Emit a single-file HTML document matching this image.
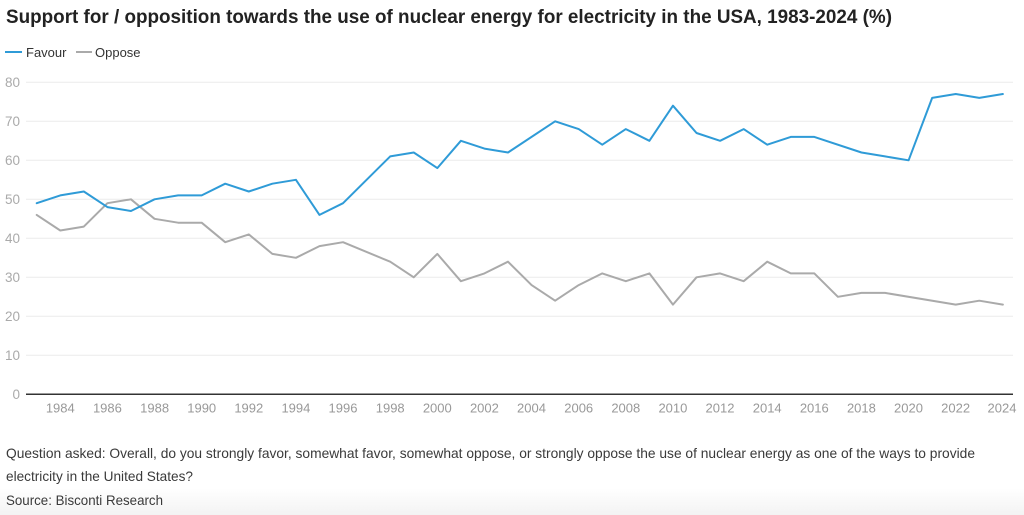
<!DOCTYPE html>
<html>
<head>
<meta charset="utf-8">
<style>
html,body{margin:0;padding:0;background:#fff;}
svg{display:block;}
text{font-family:"Liberation Sans",sans-serif;}
</style>
</head>
<body>
<svg width="1024" height="515" viewBox="0 0 1024 515" xmlns="http://www.w3.org/2000/svg">
<defs>
<linearGradient id="bg" x1="0" y1="0" x2="0" y2="1">
<stop offset="0" stop-color="#ffffff"/>
<stop offset="1" stop-color="#f3f3f3"/>
</linearGradient>
</defs>
<rect x="0" y="0" width="1024" height="515" fill="#fff"/>
<rect x="0" y="488" width="1024" height="27" fill="url(#bg)"/>

<text x="6" y="23" font-size="19" font-weight="bold" fill="#222" textLength="886" lengthAdjust="spacingAndGlyphs">Support for / opposition towards the use of nuclear energy for electricity in the USA, 1983-2024 (%)</text>

<line x1="5" y1="52" x2="22" y2="52" stroke="#2f9bd7" stroke-width="2"/>
<text x="26" y="57" font-size="13" fill="#333">Favour</text>
<line x1="76" y1="52" x2="92" y2="52" stroke="#aaaaaa" stroke-width="2"/>
<text x="95" y="57" font-size="13" fill="#333">Oppose</text>

<g stroke="#ebebeb" stroke-width="1">
<line x1="26" y1="82.3" x2="1013" y2="82.3"/>
<line x1="26" y1="121.3" x2="1013" y2="121.3"/>
<line x1="26" y1="160.3" x2="1013" y2="160.3"/>
<line x1="26" y1="199.3" x2="1013" y2="199.3"/>
<line x1="26" y1="238.3" x2="1013" y2="238.3"/>
<line x1="26" y1="277.3" x2="1013" y2="277.3"/>
<line x1="26" y1="316.3" x2="1013" y2="316.3"/>
<line x1="26" y1="355.3" x2="1013" y2="355.3"/>
</g>
<line x1="26" y1="394.3" x2="1013" y2="394.3" stroke="#333" stroke-width="1.5"/>

<g font-size="13.5" fill="#aaa" text-anchor="end">
<text x="20" y="87">80</text>
<text x="20" y="126">70</text>
<text x="20" y="165">60</text>
<text x="20" y="204">50</text>
<text x="20" y="243">40</text>
<text x="20" y="282">30</text>
<text x="20" y="321">20</text>
<text x="20" y="360">10</text>
<text x="20" y="399">0</text>
</g>

<g font-size="13" fill="#999" text-anchor="middle">
<text x="60.3" y="412.5">1984</text>
<text x="107.4" y="412.5">1986</text>
<text x="154.6" y="412.5">1988</text>
<text x="201.7" y="412.5">1990</text>
<text x="248.8" y="412.5">1992</text>
<text x="295.9" y="412.5">1994</text>
<text x="343.0" y="412.5">1996</text>
<text x="390.2" y="412.5">1998</text>
<text x="437.3" y="412.5">2000</text>
<text x="484.4" y="412.5">2002</text>
<text x="531.5" y="412.5">2004</text>
<text x="578.7" y="412.5">2006</text>
<text x="625.8" y="412.5">2008</text>
<text x="672.9" y="412.5">2010</text>
<text x="720.0" y="412.5">2012</text>
<text x="767.2" y="412.5">2014</text>
<text x="814.3" y="412.5">2016</text>
<text x="861.4" y="412.5">2018</text>
<text x="908.5" y="412.5">2020</text>
<text x="955.6" y="412.5">2022</text>
<text x="1002.0" y="412.5">2024</text>
</g>

<g transform="translate(36.7,394.3) scale(23.565,-3.9)" fill="none" stroke-linejoin="round" stroke-linecap="round">
<polyline vector-effect="non-scaling-stroke" stroke="#aaaaaa" stroke-width="2"
points="0,46 1,42 2,43 3,49 4,50 5,45 6,44 7,44 8,39 9,41 10,36 11,35 12,38 13,39 15,34 16,30 17,36 18,29 19,31 20,34 21,28 22,24 23,28 24,31 25,29 26,31 27,23 28,30 29,31 30,29 31,34 32,31 33,31 34,25 35,26 36,26 39,23 40,24 41,23"/>
<polyline vector-effect="non-scaling-stroke" stroke="#2f9bd7" stroke-width="2"
points="0,49 1,51 2,52 3,48 4,47 5,50 6,51 7,51 8,54 9,52 10,54 11,55 12,46 13,49 15,61 16,62 17,58 18,65 19,63 20,62 22,70 23,68 24,64 25,68 26,65 27,74 28,67 29,65 30,68 31,64 32,66 33,66 35,62 36,61 37,60 38,76 39,77 40,76 41,77"/>
</g>

<g font-size="14" fill="#3a3a3a">
<text x="6" y="458" textLength="969" lengthAdjust="spacingAndGlyphs">Question asked: Overall, do you strongly favor, somewhat favor, somewhat oppose, or strongly oppose the use of nuclear energy as one of the ways to provide</text>
<text x="6" y="481" textLength="187" lengthAdjust="spacingAndGlyphs">electricity in the United States?</text>
<text x="6" y="505" textLength="157" lengthAdjust="spacingAndGlyphs">Source: Bisconti Research</text>
</g>
</svg>
</body>
</html>
